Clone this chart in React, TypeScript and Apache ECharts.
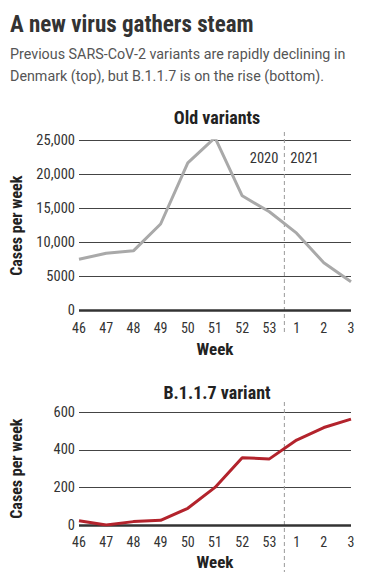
import React, { useEffect, useRef } from "react";
import * as echarts from "echarts";

const weekLabels = ["46", "47", "48", "49", "50", "51", "52", "53", "1", "2", "3"];
const oldVariants = [7560, 8450, 8800, 12750, 21750, 25450, 16900, 14550, 11400, 7050, 4250];
const b117 = [23, 0, 18, 25, 89, 200, 358, 352, 452, 519, 564];
const oldTicks = [0, 5000, 10000, 15000, 20000, 25000];
const b117Ticks = [0, 200, 400, 600];
const yearLabels = ["2020", "2021"];
const dividerPos = 7.55; // between week 53 and week 1

const COND = "'Roboto Condensed', 'Liberation Sans Narrow', 'Arial Narrow', Roboto, sans-serif";
const REG = "Roboto, 'Noto Sans', sans-serif";

function fmt(v: number) {
  if (v < 10000) return String(v);
  return v.toLocaleString("en-US");
}

export default function App() {
  const ref = useRef<HTMLDivElement>(null);
  useEffect(() => {
    if (!ref.current) return;
    const chart = echarts.init(ref.current, undefined, { renderer: "svg" });
    const xAxisBase = (gi: number, gap: number) => ({
      type: "value",
      gridIndex: gi,
      min: 0,
      max: weekLabels.length - 1,
      interval: 1,
      name: "Week",
      nameLocation: "middle",
      nameGap: gap,
      nameTextStyle: { fontFamily: COND, fontWeight: "bold", fontSize: 17, color: "#222" },
      axisLine: { show: false },
      axisTick: { show: false },
      splitLine: { show: false },
      axisLabel: {
        formatter: (v: number) => weekLabels[Math.round(v)] ?? "",
        fontFamily: COND,
        fontSize: 14,
        color: "#333",
        margin: 10,
      },
    });
    const yAxisBase = (gi: number, ticks: number[]) => ({
      type: "value",
      gridIndex: gi,
      min: ticks[0],
      max: ticks[ticks.length - 1],
      interval: ticks[1] - ticks[0],
      name: "Cases per week",
      nameLocation: "middle",
      nameGap: 55,
      nameTextStyle: { fontFamily: COND, fontWeight: "bold", fontSize: 16, color: "#222" },
      axisLine: { show: false },
      axisTick: { show: false },
      splitLine: { show: true, lineStyle: { color: "#444", width: 1 } },
      axisLabel: {
        formatter: (v: number) => fmt(v),
        fontFamily: COND,
        fontSize: 14.5,
        color: "#333",
        margin: 4,
      },
    });
    const zeroLine = (gi: number) => ({
      type: "line",
      xAxisIndex: gi,
      yAxisIndex: gi,
      data: [],
      markLine: {
        silent: true,
        symbol: "none",
        label: { show: false },
        lineStyle: { color: "#333", width: 2.5, type: "solid" },
        data: [{ yAxis: 0 }],
      },
    });
    chart.setOption({
      animation: false,
      title: [
        {
          text: "A new virus gathers steam",
          left: 5,
          top: 8,
          textStyle: { fontFamily: COND, fontWeight: "bold", fontSize: 23, color: "#333" },
        },
        {
          text: "Previous SARS-CoV-2 variants are rapidly declining in\nDenmark (top), but B.1.1.7 is on the rise (bottom).",
          left: 5,
          top: 38,
          textStyle: { fontFamily: REG, fontWeight: "normal", fontSize: 14.3, color: "#555", lineHeight: 22 },
        },
        {
          text: "Old variants",
          left: 212,
          textAlign: "center",
          top: 103,
          textStyle: { fontFamily: COND, fontWeight: "bold", fontSize: 18, color: "#222" },
        },
        {
          text: "B.1.1.7 variant",
          left: 212,
          textAlign: "center",
          top: 378,
          textStyle: { fontFamily: COND, fontWeight: "bold", fontSize: 18, color: "#222" },
        },
      ],
      grid: [
        { left: 73, width: 278, top: 140.7, height: 170 },
        { left: 73, width: 278, top: 412.3, height: 112.7 },
      ],
      xAxis: [xAxisBase(0, 30), xAxisBase(1, 28)],
      yAxis: [yAxisBase(0, oldTicks), yAxisBase(1, b117Ticks)],
      series: [
        zeroLine(0),
        zeroLine(1),
        {
          type: "line",
          xAxisIndex: 0,
          yAxisIndex: 0,
          data: oldVariants.map((v, i) => [i, v]),
          showSymbol: false,
          lineStyle: { color: "#a9a9a9", width: 3 },
          itemStyle: { color: "#a9a9a9" },
          z: 5,
        },
        {
          type: "line",
          xAxisIndex: 1,
          yAxisIndex: 1,
          data: b117.map((v, i) => [i, v]),
          showSymbol: false,
          lineStyle: { color: "#b3232c", width: 3 },
          itemStyle: { color: "#b3232c" },
          z: 5,
        },
      ],
    });
    const x = chart.convertToPixel({ gridIndex: 0 }, [dividerPos, 0])[0];
    const dash = { stroke: "#999", lineWidth: 1, lineDash: [4, 3] };
    chart.setOption({
      graphic: [
        { type: "line", shape: { x1: x, y1: 132, x2: x, y2: 334 }, style: dash, z: 1 },
        { type: "line", shape: { x1: x, y1: 402, x2: x, y2: 572 }, style: dash, z: 1 },
        {
          type: "text",
          x: x - 6,
          y: 158,
          style: { text: yearLabels[0], align: "right", verticalAlign: "middle", fontFamily: COND, fontSize: 14.5, fill: "#333" },
        },
        {
          type: "text",
          x: x + 6,
          y: 158,
          style: { text: yearLabels[1], align: "left", verticalAlign: "middle", fontFamily: COND, fontSize: 14.5, fill: "#333" },
        },
      ],
    });
    return () => chart.dispose();
  }, []);
  return (
    <div
      ref={ref}
      style={{ position: "fixed", left: 0, top: 0, width: 375, height: 579, background: "#fff" }}
    />
  );
}
